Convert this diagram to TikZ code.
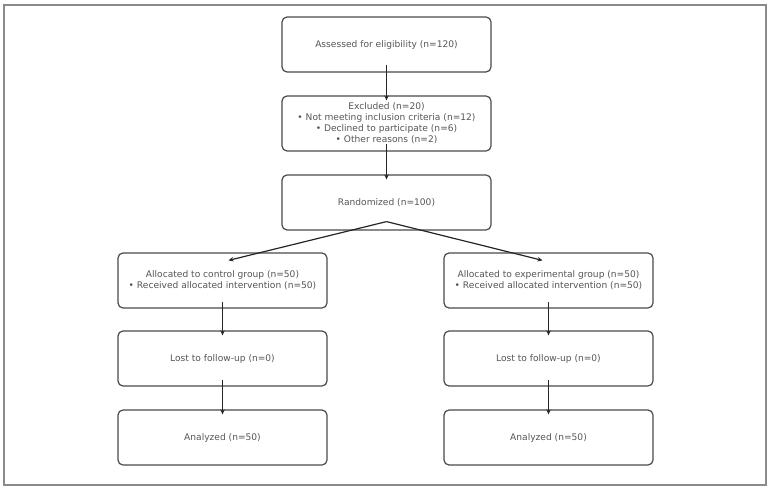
\documentclass[tikz,border=0pt]{standalone}
\usepackage{fontspec}
\setmainfont{DejaVu Sans}
\usetikzlibrary{arrows.meta}
\definecolor{boxline}{HTML}{4A4A4A}
\definecolor{boxtext}{HTML}{555555}
\definecolor{frameline}{HTML}{8A8A8A}
\tikzset{
  stage/.style={draw=boxline, line width=1.2pt, rounded corners=5pt,
    minimum width=209pt, minimum height=55pt, inner sep=0pt,
    align=center, text=boxtext, font=\fontsize{9.1}{11}\selectfont},
  flow/.style={draw=black!85, line width=1.2pt,
    -{Stealth[length=5pt,width=4.5pt]}},
}
\begin{document}
\begin{tikzpicture}[x=1pt,y=-1pt]
  \useasboundingbox (0,0) rectangle (770,489);
  \draw[frameline, line width=1.4pt] (4,5) rectangle (766,485);

  \node[stage] (assess) at (386.5,44.5) {Assessed for eligibility (n=120)};
  \node[stage] (excl) at (386.5,123.5) {Excluded (n=20)\\
    • Not meeting inclusion criteria (n=12)\\
    • Declined to participate (n=6)\\
    • Other reasons (n=2)};
  \node[stage] (rand) at (386.5,202.5) {Randomized (n=100)};

  \node[stage] (ctrl) at (222.5,280.5) {Allocated to control group (n=50)\\
    • Received allocated intervention (n=50)};
  \node[stage] (ctrllost) at (222.5,358.5) {Lost to follow-up (n=0)};
  \node[stage] (ctrlan) at (222.5,437.5) {Analyzed (n=50)};

  \node[stage] (expt) at (548.5,280.5) {Allocated to experimental group (n=50)\\
    • Received allocated intervention (n=50)};
  \node[stage] (exptlost) at (548.5,358.5) {Lost to follow-up (n=0)};
  \node[stage] (exptan) at (548.5,437.5) {Analyzed (n=50)};

  \draw[flow] ([yshift=8pt]assess.south) -- ([yshift=-5pt]excl.north);
  \draw[flow] ([yshift=8pt]excl.south) -- ([yshift=-5pt]rand.north);
  \draw[flow] ([yshift=9pt]rand.south) -- ([xshift=6pt,yshift=-8pt]ctrl.north);
  \draw[flow] ([yshift=9pt]rand.south) -- ([xshift=-6pt,yshift=-8pt]expt.north);
  \draw[flow] ([yshift=7pt]ctrl.south) -- ([yshift=-5pt]ctrllost.north);
  \draw[flow] ([yshift=7pt]ctrllost.south) -- ([yshift=-5pt]ctrlan.north);
  \draw[flow] ([yshift=7pt]expt.south) -- ([yshift=-5pt]exptlost.north);
  \draw[flow] ([yshift=7pt]exptlost.south) -- ([yshift=-5pt]exptan.north);
\end{tikzpicture}
\end{document}
